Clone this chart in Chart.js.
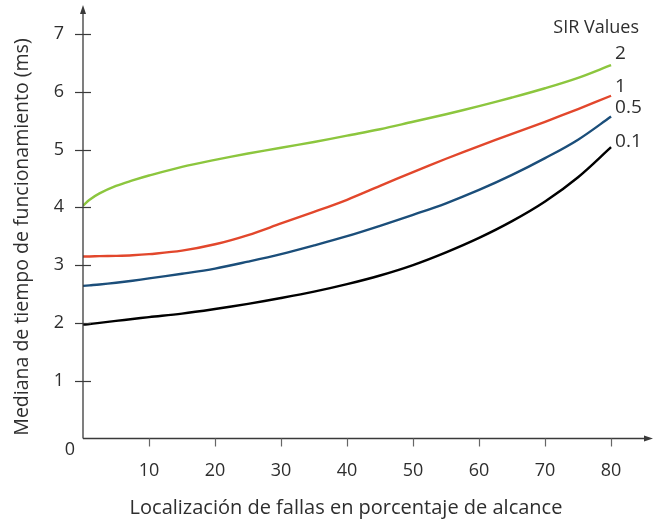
<!DOCTYPE html>
<html>
<head>
<meta charset="utf-8">
<script src="https://cdn.jsdelivr.net/npm/chart.js@4.4.1/dist/chart.umd.min.js"></script>
<style>
  body { margin: 0; background: #fff; }
  #wrap { width: 655px; height: 522px; position: relative; }
</style>
</head>
<body>
<div id="wrap"><canvas id="sirChart"></canvas></div>
<script>
// fault location (% of reach)
const xs = [0, 1, 2.5, 5, 7.5, 10, 15, 20, 25, 30, 35, 40, 45, 50, 55, 60, 65, 70, 75, 80];

// median operating time (ms) per SIR value
const sir2 = [4.03, 4.13, 4.24, 4.37, 4.465, 4.55, 4.70, 4.82, 4.93, 5.03, 5.13, 5.24, 5.35, 5.48, 5.61, 5.75, 5.90, 6.06, 6.24, 6.46];
const sir1 = [3.15, 3.15, 3.155, 3.16, 3.17, 3.19, 3.25, 3.36, 3.52, 3.72, 3.92, 4.13, 4.37, 4.61, 4.84, 5.06, 5.27, 5.48, 5.70, 5.93];
const sir05 = [2.64, 2.65, 2.665, 2.695, 2.73, 2.77, 2.85, 2.94, 3.06, 3.19, 3.34, 3.50, 3.68, 3.87, 4.07, 4.30, 4.56, 4.85, 5.17, 5.57];
const sir01 = [1.97, 1.98, 2.00, 2.035, 2.067, 2.10, 2.16, 2.24, 2.33, 2.43, 2.54, 2.67, 2.82, 3.00, 3.22, 3.47, 3.76, 4.10, 4.52, 5.04];

const seriesLabels = ['2', '1', '0.5', '0.1'];
const xTicks = [10, 20, 30, 40, 50, 60, 70, 80];
const yTicks = [1, 2, 3, 4, 5, 6, 7];

const xTitle = 'Localización de fallas en porcentaje de alcance';
const yTitle = 'Mediana de tiempo de funcionamiento (ms)';
const legendTitle = 'SIR Values';

const FONT = '"Open Sans", "Noto Sans", sans-serif';
const TEXT = '#2e2e2e';
const AXIS = '#3a3a3a';

const toPoints = (vals) => xs.map((x, i) => ({ x, y: vals[i] }));

const makeSet = (label, vals, color) => ({
  label,
  data: toPoints(vals),
  borderColor: color,
  borderWidth: 2.4,
  pointRadius: 0,
  fill: false,
  tension: 0.35,
});

// axes with arrows, ticks and the text around the plot
const axesPlugin = {
  id: 'axesPlugin',
  afterDraw: (chart) => {
    const { ctx, chartArea, scales } = chart;
    const { x, y } = scales;
    const left = chartArea.left;
    const bottom = y.getPixelForValue(0);

    ctx.save();
    ctx.strokeStyle = AXIS;
    ctx.fillStyle = AXIS;
    ctx.lineWidth = 1.3;

    // y axis + arrow
    ctx.beginPath();
    ctx.moveTo(left, bottom);
    ctx.lineTo(left, chartArea.top + 6);
    ctx.stroke();
    ctx.beginPath();
    ctx.moveTo(left, chartArea.top);
    ctx.lineTo(left - 3, chartArea.top + 9);
    ctx.lineTo(left + 3, chartArea.top + 9);
    ctx.closePath();
    ctx.fill();

    // x axis + arrow
    ctx.beginPath();
    ctx.moveTo(left, bottom);
    ctx.lineTo(chartArea.right - 6, bottom);
    ctx.stroke();
    ctx.beginPath();
    ctx.moveTo(chartArea.right + 1, bottom);
    ctx.lineTo(chartArea.right - 8, bottom - 3);
    ctx.lineTo(chartArea.right - 8, bottom + 3);
    ctx.closePath();
    ctx.fill();

    // y ticks cross the axis
    ctx.lineWidth = 1.2;
    yTicks.forEach((v) => {
      const py = Math.round(y.getPixelForValue(v)) + 0.5;
      ctx.beginPath();
      ctx.moveTo(left - 8, py);
      ctx.lineTo(left + 8, py);
      ctx.stroke();
    });

    // x ticks point down
    ctx.strokeStyle = '#666';
    xTicks.forEach((v) => {
      const px = Math.round(x.getPixelForValue(v)) + 0.5;
      ctx.beginPath();
      ctx.moveTo(px, bottom);
      ctx.lineTo(px, bottom + 8);
      ctx.stroke();
    });

    ctx.fillStyle = TEXT;
    ctx.font = `18px ${FONT}`;
    ctx.textAlign = 'center';
    ctx.textBaseline = 'middle';
    ctx.fillText('0', left - 13, bottom + 11);

    // axis titles
    ctx.font = `20px ${FONT}`;
    ctx.fillText(xTitle, 346, 508);
    ctx.save();
    ctx.translate(22, 237);
    ctx.rotate(-Math.PI / 2);
    ctx.font = `19.5px ${FONT}`;
    ctx.fillText(yTitle, 0, 0);
    ctx.restore();

    // curve labels at the line ends
    ctx.font = `19px ${FONT}`;
    ctx.textAlign = 'left';
    const dy = [-12, -9, -9, -6];
    chart.data.datasets.forEach((ds, i) => {
      const last = ds.data[ds.data.length - 1];
      const px = x.getPixelForValue(last.x);
      const py = y.getPixelForValue(last.y);
      ctx.fillText(seriesLabels[i], px + 4, py + dy[i]);
    });
    ctx.textAlign = 'right';
    ctx.font = `18px ${FONT}`;
    ctx.fillText(legendTitle, 639, 28);

    ctx.restore();
  },
};

const displaySirChart = () => {
  new Chart('sirChart', {
    type: 'line',
    data: {
      datasets: [
        makeSet('2', sir2, '#8cc63e'),
        makeSet('1', sir1, '#e2472c'),
        makeSet('0.5', sir05, '#1b4e7a'),
        makeSet('0.1', sir01, '#000000'),
      ],
    },
    options: {
      responsive: true,
      maintainAspectRatio: false,
      animation: false,
      layout: { padding: { top: 5, right: 3, left: 0, bottom: 0 } },
      plugins: {
        legend: { display: false },
        tooltip: { enabled: false },
      },
      scales: {
        x: {
          type: 'linear',
          min: 0,
          max: 86.2,
          afterBuildTicks: (scale) => {
            scale.ticks = xTicks.map((v) => ({ value: v }));
          },
          afterFit: (scale) => {
            scale.height = 83.5;
            scale.paddingLeft = 0;
            scale.paddingRight = 0;
          },
          grid: { display: false, drawTicks: false },
          border: { display: false },
          ticks: {
            padding: 22,
            color: TEXT,
            font: { family: FONT, size: 18 },
            maxRotation: 0,
          },
        },
        y: {
          min: 0,
          max: 7.5,
          afterBuildTicks: (scale) => {
            scale.ticks = yTicks.map((v) => ({ value: v }));
          },
          afterFit: (scale) => {
            scale.width = 83;
            scale.paddingTop = 0;
            scale.paddingBottom = 0;
          },
          grid: { display: false, drawTicks: false },
          border: { display: false },
          ticks: {
            padding: 19,
            color: TEXT,
            font: { family: FONT, size: 18 },
          },
        },
      },
    },
    plugins: [axesPlugin],
  });
};

displaySirChart();
</script>
</body>
</html>
